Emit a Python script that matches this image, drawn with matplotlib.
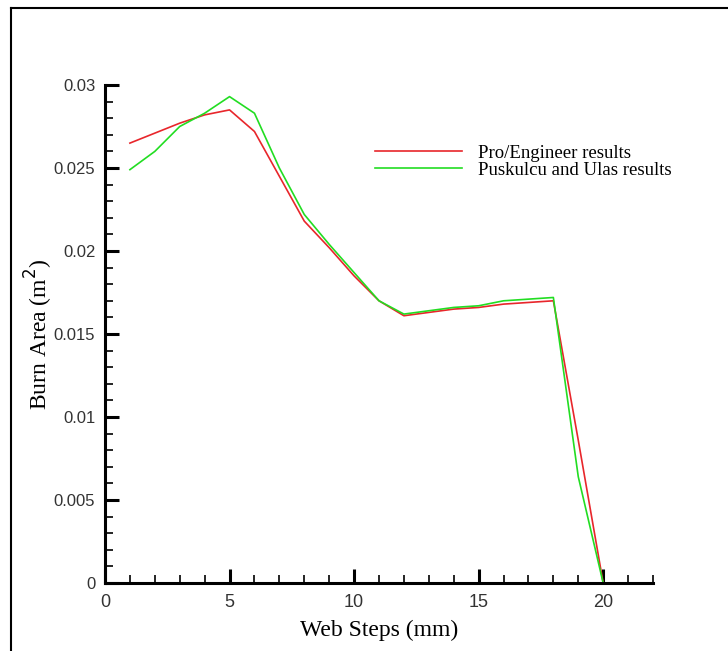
import matplotlib
matplotlib.use("Agg")
import matplotlib.pyplot as plt
from matplotlib.ticker import MultipleLocator
from matplotlib.lines import Line2D

web_steps = [1, 2, 3, 4, 5, 6, 7, 8, 9, 10, 11, 12, 13, 14, 15, 16, 17, 18, 19, 20]
pro_engineer = [0.0265, 0.0271, 0.0277, 0.0282, 0.0285, 0.0272, 0.0245, 0.0218, 0.0202,
                0.0185, 0.0170, 0.0161, 0.0163, 0.0165, 0.0166, 0.0168, 0.0169, 0.0170,
                0.0086, 0.0]
puskulcu_ulas = [0.0249, 0.0260, 0.0275, 0.0283, 0.0293, 0.0283, 0.0250, 0.0222, 0.0204,
                 0.0187, 0.0170, 0.0162, 0.0164, 0.0166, 0.0167, 0.0170, 0.0171, 0.0172,
                 0.0064, 0.0]
series_names = ["Pro/Engineer results", "Puskulcu and Ulas results"]
x_label = "Web Steps (mm)"
y_label = "Burn Area (m$^2$)"

fig = plt.figure(figsize=(7.28, 6.51), dpi=100)
ax = fig.add_axes([105/728, 1-583/651, (653-105)/728, (583-85)/651])

ax.plot(web_steps, pro_engineer, color="#e8262b", lw=1.2)
ax.plot(web_steps, puskulcu_ulas, color="#22dd22", lw=1.2)

ax.set_xlim(0, 22)
ax.set_ylim(0, 0.03)
ax.spines["top"].set_visible(False)
ax.spines["right"].set_visible(False)
for s in ("left", "bottom"):
    ax.spines[s].set_linewidth(2.2)

ax.xaxis.set_major_locator(MultipleLocator(5))
ax.xaxis.set_minor_locator(MultipleLocator(1))
ax.yaxis.set_major_locator(MultipleLocator(0.005))
ax.yaxis.set_minor_locator(MultipleLocator(0.001))
ax.yaxis.set_major_formatter(matplotlib.ticker.FuncFormatter(lambda v, p: ("%g" % round(v, 4))))
ax.tick_params(which="major", direction="in", length=10, width=2.2, labelcolor="#333333")
ax.tick_params(axis="x", which="major", pad=8, labelsize=13)
ax.tick_params(axis="y", which="major", pad=7, labelsize=12)
ax.tick_params(which="minor", direction="in", length=6, width=1.2)
for lab in ax.get_xticklabels() + ax.get_yticklabels():
    lab.set_family("Liberation Sans")

ax.set_xlabel(x_label, family="Liberation Serif", fontsize=17, labelpad=6)
ax.set_ylabel(y_label, family="Liberation Serif", fontsize=17, labelpad=-1)

handles = [Line2D([], [], color="#e8262b", lw=1.2), Line2D([], [], color="#22dd22", lw=1.2)]
ax.legend(handles, series_names, loc="upper left", bbox_to_anchor=((366-105)/548, 1-(135-85)/498),
          frameon=False, prop={"family": "Liberation Serif", "size": 13.5},
          handlelength=4.6, handletextpad=0.85, labelspacing=0.0, borderpad=0)

fig.add_artist(Line2D([11/728, 11/728], [0, 1-8/651], color="black", lw=1.5, transform=fig.transFigure))
fig.add_artist(Line2D([11/728, 1], [1-8/651, 1-8/651], color="black", lw=1.5, transform=fig.transFigure))

fig.savefig("out.png", dpi=100)
